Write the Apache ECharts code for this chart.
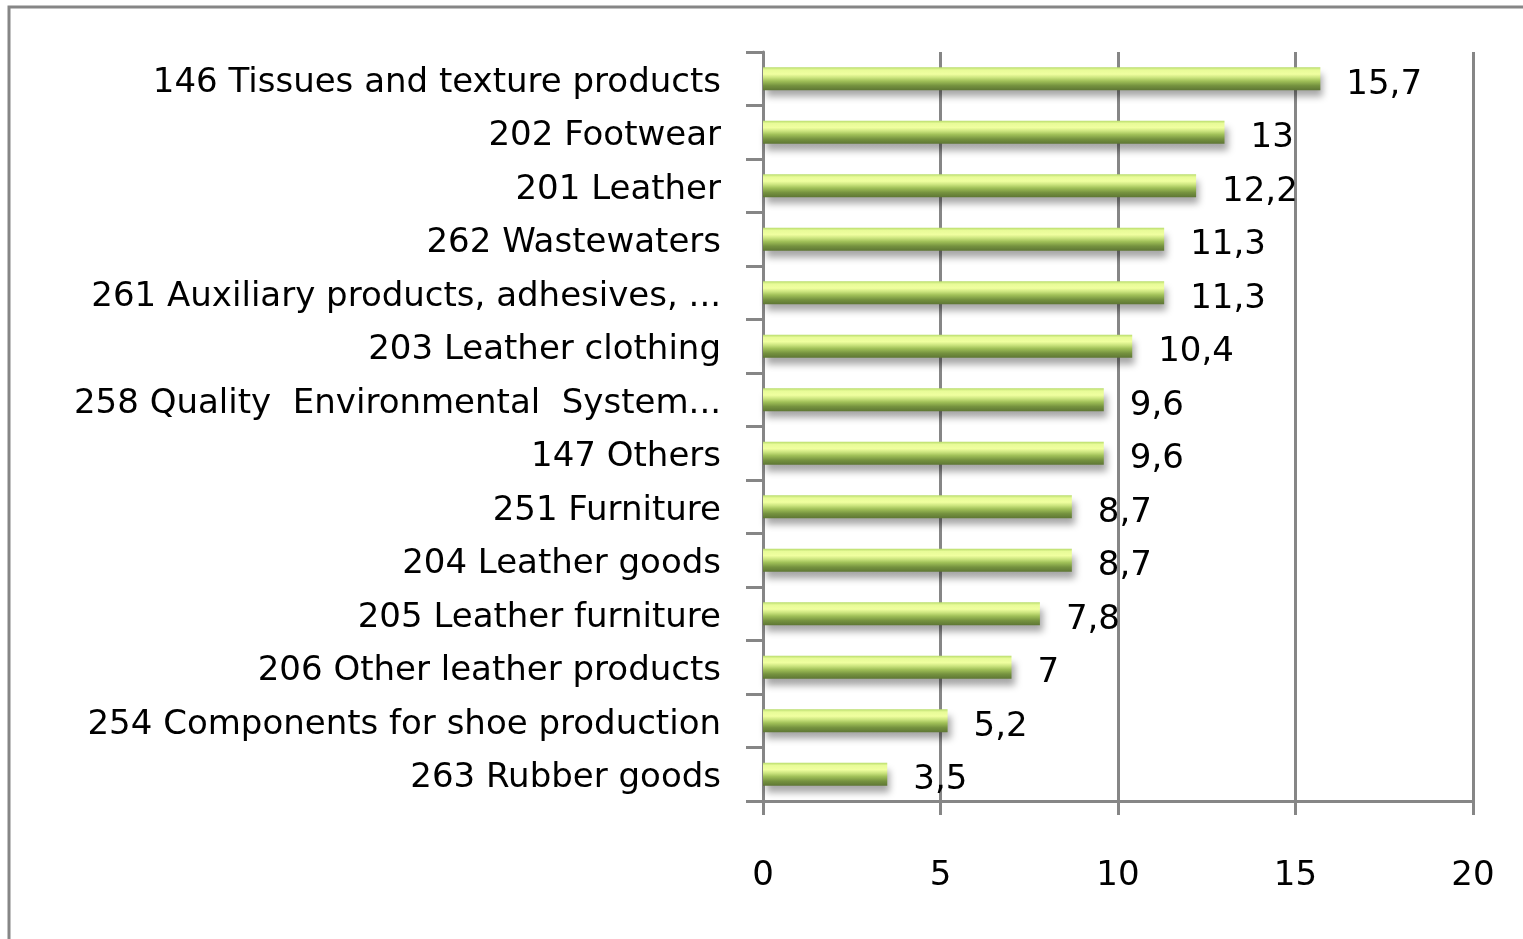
<script src="https://cdn.jsdelivr.net/npm/echarts@6/dist/echarts.min.js"></script>
<div id="main" style="width:1523px;height:939px;margin:0;padding:0;"></div>
<style>body{margin:0;padding:0;background:#fff;}</style>
<script>
    var categories = [
        '146 Tissues and texture products',
        '202 Footwear',
        '201 Leather',
        '262 Wastewaters',
        '261 Auxiliary products, adhesives, ...',
        '203 Leather clothing',
        '258 Quality  Environmental  System...',
        '147 Others',
        '251 Furniture',
        '204 Leather goods',
        '205 Leather furniture',
        '206 Other leather products',
        '254 Components for shoe production',
        '263 Rubber goods'
    ];
    var values = [15.7, 13, 12.2, 11.3, 11.3, 10.4, 9.6, 9.6, 8.7, 8.7, 7.8, 7, 5.2, 3.5];
    var xTicks = [0, 5, 10, 15, 20];

    var myChart = echarts.init(document.getElementById('main'));
    var gray = '#868686';
    var font = 'DejaVu Sans';

    var option = {
        animation: false,
        backgroundColor: '#fff',
        graphic: [{
            type: 'rect',
            shape: { x: 9, y: 7, width: 1600, height: 1000 },
            style: { fill: 'none', stroke: gray, lineWidth: 3 }
        }],
        grid: { left: 763, right: 50, top: 52, bottom: 138 },
        xAxis: {
            type: 'value',
            min: xTicks[0],
            max: xTicks[xTicks.length - 1],
            interval: 5,
            axisLine: { show: true, lineStyle: { color: gray, width: 3 } },
            axisTick: { show: true, length: 14, lineStyle: { color: gray, width: 3 } },
            splitLine: { show: true, lineStyle: { color: gray, width: 3 } },
            axisLabel: { margin: 41, color: '#000', fontSize: 34, fontFamily: font }
        },
        yAxis: {
            type: 'category',
            inverse: true,
            data: categories,
            axisLine: { show: true, lineStyle: { color: gray, width: 3 } },
            axisTick: { show: true, interval: 0, length: 17, lineStyle: { color: gray, width: 3 } },
            axisLabel: {
                interval: 0, margin: 42, color: '#000', fontSize: 34, fontFamily: font,
                formatter: function (v) { return '{a|' + v + '}'; },
                rich: {
                    a: { color: '#000', fontSize: 34, fontFamily: font, padding: [8, 0, 0, 0] }
                }
            }
        },
        series: [{
            type: 'bar',
            data: values,
            barWidth: 23,
            itemStyle: {
                color: new echarts.graphic.LinearGradient(0, 0, 0, 1, [
                    { offset: 0, color: '#b8dc6c' },
                    { offset: 0.12, color: '#e8fb98' },
                    { offset: 0.3, color: '#f0ffa0' },
                    { offset: 0.45, color: '#cbe47e' },
                    { offset: 0.6, color: '#a0c058' },
                    { offset: 0.8, color: '#75923f' },
                    { offset: 1, color: '#5e7634' }
                ]),
                shadowColor: 'rgba(0,0,0,0.35)',
                shadowBlur: 7,
                shadowOffsetX: 3,
                shadowOffsetY: 7
            },
            label: {
                show: true,
                position: 'right',
                distance: 26,
                offset: [0, 6],
                color: '#000',
                fontSize: 34,
                fontFamily: font,
                formatter: function (p) { return String(p.value).replace('.', ','); }
            }
        }]
    };

    myChart.setOption(option);

    window.onresize = function () {
        myChart.resize();
    }
</script>
